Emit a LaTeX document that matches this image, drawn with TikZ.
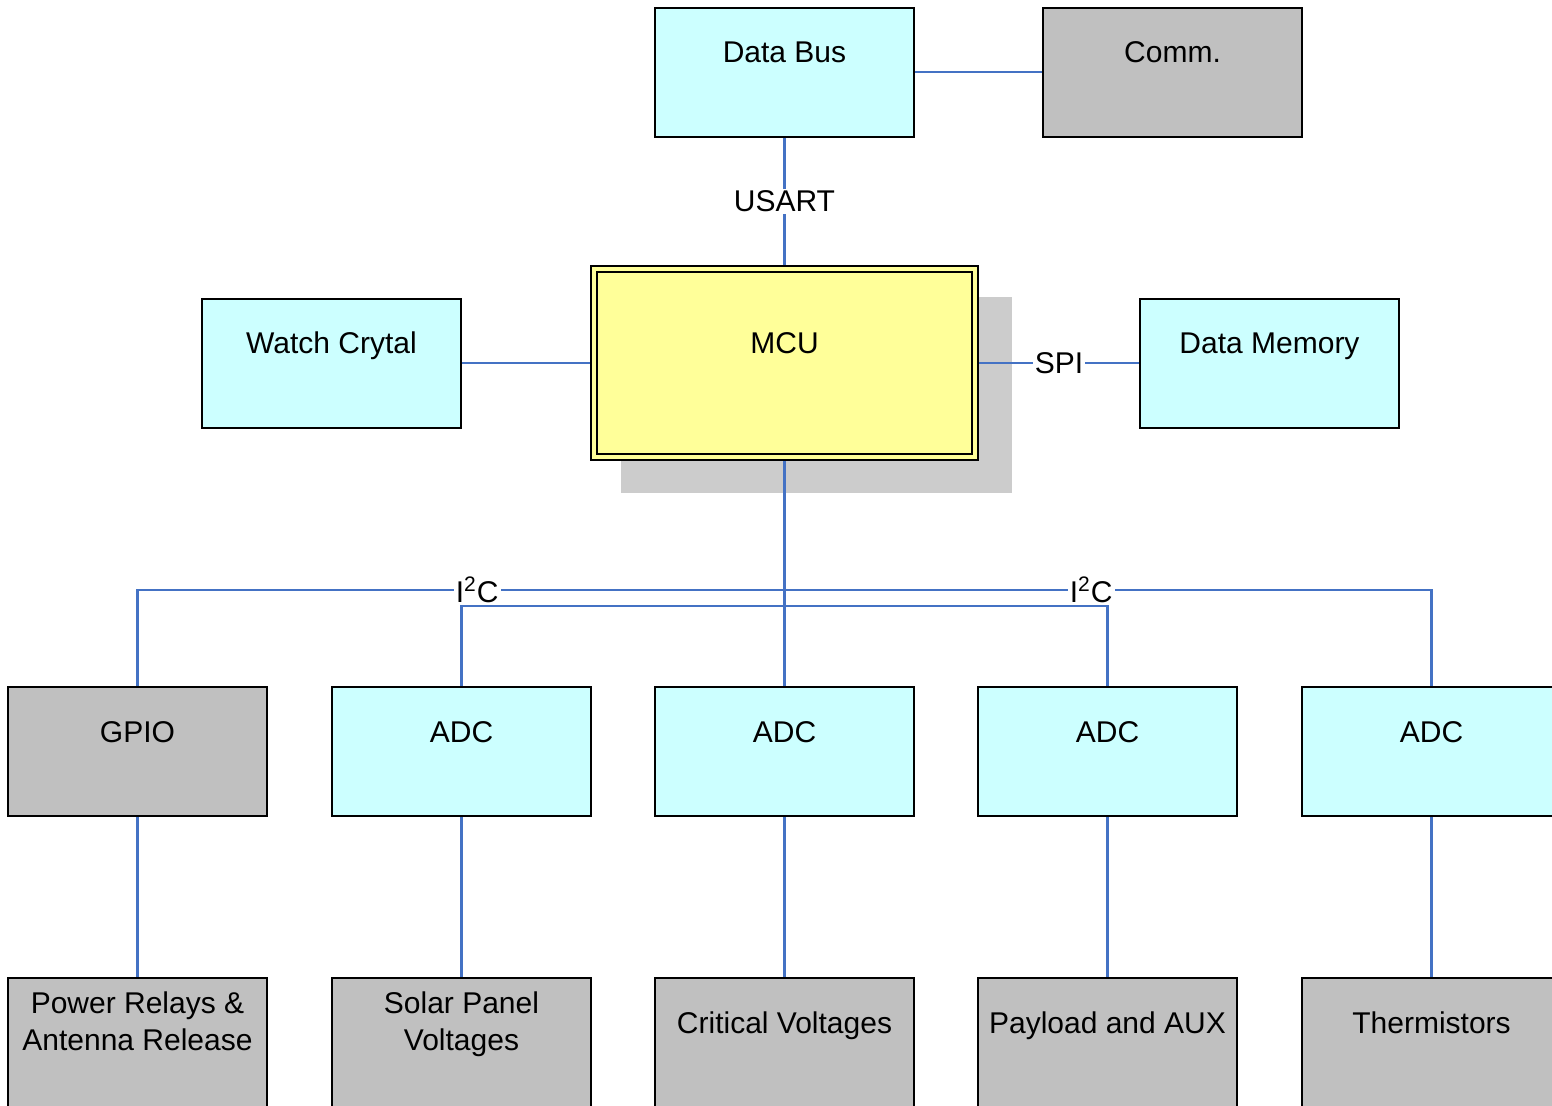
\documentclass[tikz,border=0pt]{standalone}
\usepackage{fontspec}
\setmainfont{Liberation Sans}

\definecolor{boxcyan}{HTML}{CCFFFF}
\definecolor{boxgray}{HTML}{C0C0C0}
\definecolor{mcuyellow}{HTML}{FFFF99}
\definecolor{shadowgray}{HTML}{CCCCCC}
\definecolor{busblue}{HTML}{4472C4}

\begin{document}
\begin{tikzpicture}[x=0.5pt, y=-0.5pt,
  every node/.style={font=\fontsize{15}{18.5}\selectfont},
  blk/.style={draw, line width=1pt, minimum width=129.5pt, minimum height=64.5pt,
    label={[anchor=base, yshift=-28pt, align=center]north:#1}},
  blk2/.style={draw, line width=1pt, minimum width=129.5pt, minimum height=64.5pt,
    label={[anchor=base, yshift=-36.8pt, align=center]north:#1}},
  bus/.style={busblue, line width=1.3pt},
  tag/.style={fill=white, inner sep=1pt, text=black}]

\useasboundingbox (0,0) rectangle (1552,1105);

% Shadow behind the MCU
\fill[shadowgray] (621,297) rectangle (1012,493);

% MCU
\node[draw, line width=1pt, double=mcuyellow, double distance=2pt, fill=mcuyellow,
  minimum width=190.5pt, minimum height=94pt, outer sep=2pt,
  label={[anchor=base, yshift=-44.1pt]north:MCU}] (mcu) at (784.5,363) {};

% Blocks around the MCU
\foreach \x/\y/\name/\txt/\col in {784.5/72/db/Data Bus/boxcyan, 1172.5/72/comm/Comm./boxgray,
    331.5/363/wc/Watch Crytal/boxcyan, 1269.5/363/dm/Data Memory/boxcyan}
  \node[blk=\txt, fill=\col] (\name) at (\x,\y) {};

% Converters
\foreach \x/\name/\txt/\col in {137.5/gpio/GPIO/boxgray, 461.5/adc1/ADC/boxcyan,
    784.5/adc2/ADC/boxcyan, 1107.5/adc3/ADC/boxcyan, 1431.5/adc4/ADC/boxcyan}
  \node[blk=\txt, fill=\col] (\name) at (\x,751.5) {};

% Signals
\foreach \x/\name/\txt in {137.5/relays/{Power Relays \& \\ Antenna Release},
    461.5/solar/{Solar Panel \\ Voltages}}
  \node[blk2=\txt, fill=boxgray] (\name) at (\x,1042.5) {};
\foreach \x/\name/\txt in {784.5/critical/Critical Voltages,
    1107.5/payload/Payload and AUX, 1431.5/therm/Thermistors}
  \node[blk=\txt, fill=boxgray] (\name) at (\x,1042.5) {};

% Links
\draw[bus] (db) -- node[tag] {USART} (mcu);
\draw[bus] (db) -- (comm);
\draw[bus] (wc) -- (mcu);
\draw[bus] (mcu) -- node[tag] {SPI} (dm);
\draw[bus] (mcu) -- (adc2);

% I2C buses
\coordinate (j1) at (784.5,590);
\coordinate (j2) at (784.5,606);
\draw[bus] (gpio) |- node[tag, pos=0.7625] {I\textsuperscript{2}C} (j1)
  -| node[tag, pos=0.237] {I\textsuperscript{2}C} (adc4);
\draw[bus] (adc1) |- (j2) -| (adc3);

\foreach \a/\b in {gpio/relays, adc1/solar, adc2/critical, adc3/payload, adc4/therm}
  \draw[bus] (\a) -- (\b);

\end{tikzpicture}
\end{document}
